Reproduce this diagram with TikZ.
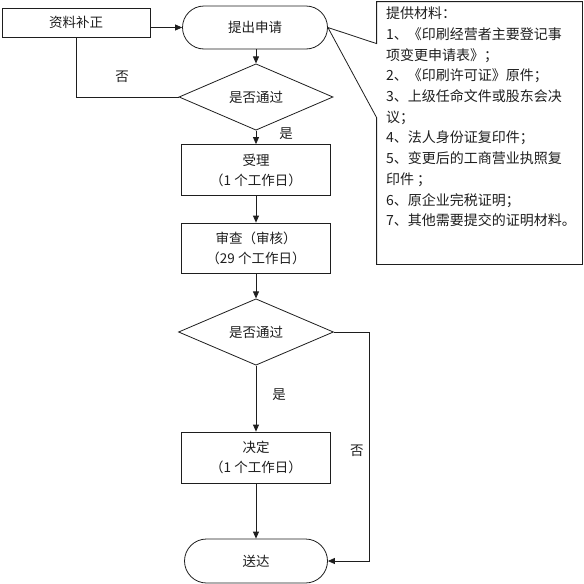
\documentclass[tikz,border=0pt]{standalone}
\usepackage{fontspec}
\setmainfont{Noto Sans CJK SC}
\usetikzlibrary{arrows.meta,positioning,calc,shapes.misc,shapes.geometric}
\definecolor{ink}{RGB}{30,30,30}
\tikzset{
  every picture/.style={color=ink, line width=0.8pt, font=\fontsize{13.5}{20}\selectfont},
  box/.style={draw=ink, fill=white, minimum width=149pt, minimum height=50pt, align=center, inner sep=2pt},
  pill/.style={draw=ink, fill=white, rounded rectangle, minimum width=148pt, minimum height=43pt, inner sep=2pt},
  choice/.style={draw=ink, fill=white, diamond, minimum width=154pt, minimum height=50pt, inner sep=0pt},
  flow/.style={-{Triangle[length=7pt,width=6pt]}},
  lbl/.style={inner sep=1pt},
  items/.style={align=left, inner sep=0pt, font=\fontsize{14}{20.7}\selectfont},
}
\begin{document}
\begin{tikzpicture}[x=1pt, y=1pt]
  \useasboundingbox (0,0) rectangle (584,-584);
  % main column
  \node[box, minimum height=29pt, minimum width=148pt] (zlbz) at (76,-22.5) {资料补正};
  \node[pill, minimum width=149pt] (tcsq) at (255,-27.5) {提出申请};
  \node[choice] (pass1) at (256,-97) {是否通过};
  \node[box, minimum height=51pt] (sl) at (256,-170) {受理\\（1 个工作日）};
  \node[box] (sc) at (256,-248) {审查（审核）\\（29 个工作日）};
  \node[choice, minimum width=155pt] (pass2) at (256,-332) {是否通过};
  \node[box, minimum height=51pt] (jd) at (256,-457.5) {决定\\（1 个工作日）};
  \node[pill, minimum width=147pt, minimum height=44pt] (sd) at (256,-561) {送达};
  \coordinate (back) at (369,-332);
  % connectors
  \draw[flow] (zlbz.east |- tcsq.west) -- (tcsq.west);
  \draw[flow] (tcsq.south -| pass1.north) -- (pass1.north);
  \draw (pass1.west) -| node[lbl, pos=0.275, above=13pt] {否} (zlbz.south);
  \draw[flow] (pass1.south) -- node[lbl, right=22pt, pos=0.25] {是} (sl.north);
  \draw[flow] (sl.south) -- (sc.north);
  \draw[flow] (sc.south) -- (pass2.north);
  \draw[flow] (pass2.south) -- node[lbl, right=15pt, pos=0.44] {是} (jd.north);
  \draw[flow] (jd.south) -- (sd.north);
  \draw[flow] (pass2.east) -- (back) |- node[lbl, left=4pt, pos=0.26] {否} (sd.east);
  % materials callout
  \node[minimum width=205pt, minimum height=262pt, inner sep=0pt] (note) at (479.5,-133) {};
  \coordinate (gapA) at ($(note.north west)+(0,-42)$);
  \coordinate (gapB) at ($(note.north west)+(0,-116)$);
  \draw (gapA) -- (note.north west) -- (note.north east) -- (note.south east) -- (note.south west) -- (gapB) -- (tcsq.east) -- cycle;
  \node[items, anchor=north west] (list) at ($(note.north west)+(9,-5)$) {提供材料：\\
    1、《印刷经营者主要登记事\\
    项变更申请表》；\\
    2、《印刷许可证》原件；\\
    3、上级任命文件或股东会决\\
    议；\\
    4、法人身份证复印件；\\
    5、变更后的工商营业执照复\\
    印件 ；\\
    6、原企业完税证明；\\
    7、其他需要提交的证明材料。};
\end{tikzpicture}
\end{document}
